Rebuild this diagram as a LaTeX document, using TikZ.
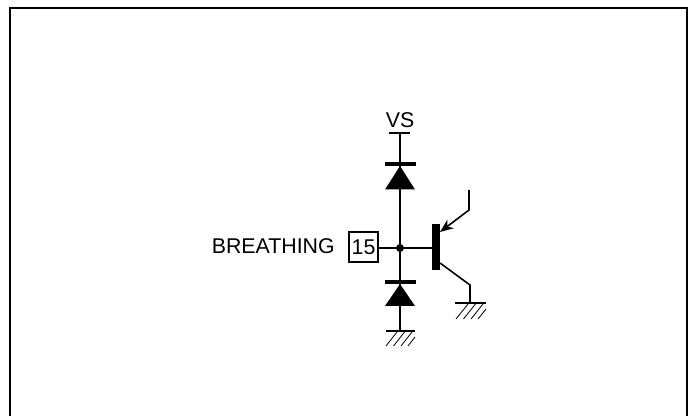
\documentclass[tikz,border=0pt]{standalone}
\usepackage{fontspec}
\setmainfont{Liberation Sans}
\usepackage{tikz}
\usetikzlibrary{arrows.meta}
\tikzset{
  wire/.style={line width=1.5pt},
  thinwire/.style={line width=1.2pt},
  diodebar/.style={line width=3pt},
  hatch/.style={line width=0.6pt},
  label/.style={font=\fontsize{16pt}{18pt}\selectfont, inner sep=0pt}
}
\begin{document}
\begin{tikzpicture}[x=0.75pt,y=-0.75pt]
\useasboundingbox (0,0) rectangle (692,416);
% frame
\coordinate (fa) at (10,416);
\coordinate (fb) at (10,8);
\coordinate (fc) at (687,8);
\coordinate (fd) at (687,416);
\draw[wire,line join=miter] (fa)--(fb)--(fc)--(fd);
% supply
\coordinate (va) at (389,133);
\coordinate (vb) at (410,133);
\coordinate (v) at (400,133);
\coordinate (j) at (400,248);
\coordinate (g1) at (400,331);
\node[label,anchor=base] (vs) at (400,128) {VS};
\draw[thinwire] (va)--(vb);
\draw[thinwire] (v)--(j)--(g1);
% upper diode
\coordinate (d1l) at (385,164);
\coordinate (d1r) at (416,164);
\draw[diodebar] (d1l)--(d1r);
\fill[black] (400,166)--(415,189.5)--(385,189.5)--cycle;
% lower diode
\coordinate (d2l) at (385,282);
\coordinate (d2r) at (416,282);
\draw[diodebar] (d2l)--(d2r);
\fill[black] (400,284)--(415,306)--(385,306)--cycle;
% pin
\node[label,anchor=base east] (name) at (335,254) {BREATHING};
\node[draw,wire,minimum width=22pt,minimum height=22pt,inner sep=0pt,font=\fontsize{16pt}{18pt}\selectfont] (pin) at (363.5,247) {15};
\coordinate (b) at (434,248);
\draw[thinwire] (pin.east|-b)--(b);
\fill[black] (j) circle (4);
% transistor
\coordinate (bt) at (436,224);
\coordinate (bb) at (436,270);
\draw[line width=6pt] (bt)--(bb);
\coordinate (ea) at (469,190);
\coordinate (eb) at (469,210);
\coordinate (et) at (440,232);
\draw[thinwire,-{Stealth[length=10pt,width=8pt]}] (ea)--(eb)--(et);
\coordinate (ca) at (440,263);
\coordinate (cb) at (470,285);
\coordinate (g2) at (470,303);
\draw[thinwire] (ca)--(cb)--(g2);
% grounds
\coordinate (g1l) at (386,331);
\coordinate (g1r) at (415,331);
\coordinate (g2l) at (455,303);
\coordinate (g2r) at (486,303);
\draw[thinwire] (g1l)--(g1r);
\draw[thinwire] (g2l)--(g2r);
\foreach \x in {397,404.5,412}
  \draw[hatch] (\x,332)--(\x-11,346);
\draw[hatch] (415,337)--(408,346);
\foreach \x in {468,475.5,483}
  \draw[hatch] (\x,304)--(\x-12,319);
\draw[hatch] (486,309)--(478,319);
\end{tikzpicture}
\end{document}
